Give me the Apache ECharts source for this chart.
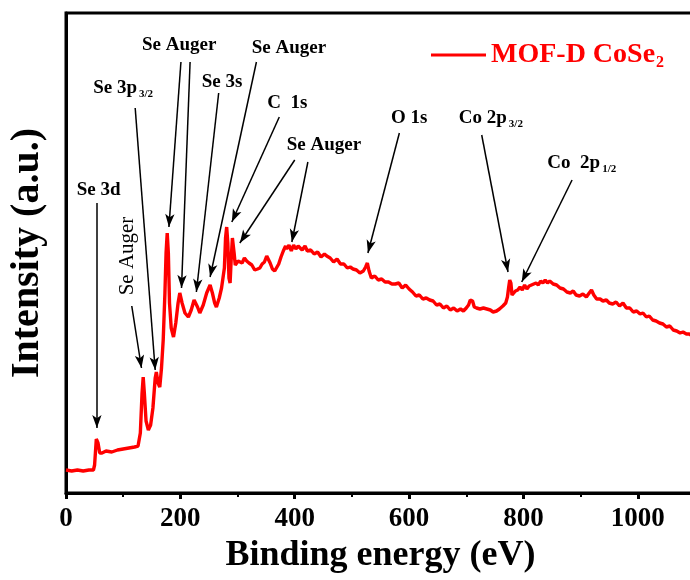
<!DOCTYPE html>
<html>
<head>
<meta charset="utf-8">
<script src="https://cdn.jsdelivr.net/npm/echarts@6/dist/echarts.min.js"></script>
<style>
  html, body { margin: 0; padding: 0; background: #fff; }
  #chart { width: 690px; height: 580px; }
</style>
</head>
<body>
<div id="chart"></div>
<script>
// XPS survey spectrum of MOF-D CoSe2
const seriesName = 'MOF-D CoSe2';

// binding energy (eV)
const energy = [
  0, 10, 20, 30, 40, 48, 50, 53, 56, 59, 63, 70, 80, 90, 100, 110, 120, 126,
  130, 133, 135, 137, 140, 144, 148, 152, 156, 158, 161, 164, 167, 170, 173, 175, 177, 179, 181, 184, 188,
  192, 196, 199, 203, 208, 214, 219, 224, 227, 230, 234, 240, 246, 252, 256, 260, 263, 268, 272, 275,
  277, 279, 281, 283, 285, 287, 289, 291, 293, 294, 296, 298, 301, 304, 308, 312, 316, 320, 325, 330,
  335, 339, 343, 347, 351, 354, 357, 361, 365, 368, 372, 376, 380, 384, 386, 390, 394, 398, 402, 406,
  409, 413, 418, 422, 428, 434, 440, 446, 452, 456, 462, 468, 474, 480, 486, 492, 497, 502, 508, 514,
  520, 524, 527, 530, 534, 540, 546, 552, 558, 564, 570, 576, 582, 588, 594, 600, 606, 612, 618, 624,
  630, 636, 642, 648, 654, 660, 666, 672, 678, 684, 690, 695, 700, 704, 707, 709, 711, 714, 718, 724,
  730, 736, 742, 747, 753, 758, 764, 769, 772, 774, 776, 778, 780, 782, 786, 790, 794, 798, 802, 806,
  810, 814, 817, 822, 826, 830, 834, 838, 842, 846, 852, 858, 864, 870, 876, 882, 887, 892, 898, 904,
  910, 915, 919, 923, 928, 934, 939, 945, 950, 956, 962, 968, 974, 980, 986, 992, 998, 1004, 1009, 1015,
  1020, 1026, 1032, 1038, 1044, 1050, 1056, 1062, 1068, 1074, 1079, 1085, 1090, 1095, 1100
];

// intensity (a.u.)
const intensity = [
  23, 22, 23, 22, 23, 23, 28, 54, 50, 40, 40, 42, 41, 43, 44, 45, 46, 47,
  60, 100, 116, 100, 72, 63, 68, 85, 115, 121, 110, 106, 125, 153, 200, 240, 260, 240, 190, 165, 156,
  170, 190, 200, 190, 180, 176, 183, 193, 195, 186, 180, 188, 200, 208, 200, 190, 186, 195, 205, 206,
  225, 255, 266, 250, 215, 210, 235, 255, 256, 240, 228, 226, 232, 233, 230, 235, 232, 230, 228, 223,
  224, 225, 229, 231, 237, 236, 230, 224, 222, 223, 229, 236, 242, 247, 244, 248, 242, 248, 244, 247,
  245, 243, 247, 242, 243, 239, 241, 236, 239, 237, 235, 231, 234, 229, 229, 225, 226, 224, 223, 220,
  222, 226, 230, 222, 215, 217, 213, 214, 211, 211, 209, 209, 210, 205, 208, 204, 201, 197, 198, 194,
  195, 193, 192, 188, 189, 185, 187, 183, 185, 182, 184, 182, 185, 188, 193, 195, 192, 186, 185, 184,
  185, 184, 183, 181, 182, 184, 187, 190, 196, 205, 213, 210, 198, 196, 202, 203, 206, 203, 208, 204,
  207, 208, 206, 210, 208, 212, 210, 213, 210, 212, 209, 208, 205, 204, 201, 200, 202, 198, 197, 199,
  196, 200, 203, 198, 194, 194, 192, 193, 190, 189, 191, 187, 190, 185, 185, 181, 182, 179, 180, 176,
  177, 173, 172, 170, 169, 166, 167, 163, 162, 160, 161, 159, 159, 157, 157
];

// peak assignments: label text, label anchor and arrow(s) [fromE, fromI, toE, toI]
const callouts = [
  { text: '{b|Se 3d}', at: [57, 303], arrows: [[54, 290, 54, 65]] },
  { text: '{n|Se Auger}', at: [108, 237], rotate: 90, arrows: [[115, 187, 132, 125]] },
  { text: '{b|Se 3p}{s|3/2}', at: [100, 405], arrows: [[121, 385, 156, 123]] },
  { text: '{b|Se Auger}', at: [198, 448], arrows: [[201, 431, 180, 266], [217, 431, 202, 205]] },
  { text: '{b|Se 3s}', at: [273, 411], arrows: [[267, 400, 228, 201]] },
  { text: '{b|Se Auger}', at: [390, 445], arrows: [[333, 431, 252, 216]] },
  { text: '{b|C  1s}', at: [387, 390], arrows: [[373, 376, 290, 271]] },
  { text: '{b|Se Auger}', at: [451, 348], arrows: [[400, 333, 304, 250], [423, 331, 395, 251]] },
  { text: '{b|O 1s}', at: [600, 375], arrows: [[583, 360, 528, 240]] },
  { text: '{b|Co 2p}{s|3/2}', at: [743, 375], arrows: [[727, 358, 773, 221]] },
  { text: '{b|Co  2p}{s|1/2}', at: [902, 330], arrows: [[885, 313, 797, 211]] }
];

const serif = '"Liberation Serif", "Times New Roman", serif';
const labelRich = {
  b: { fontFamily: serif, fontWeight: 'bold', fontSize: 19, color: '#000' },
  n: { fontFamily: serif, fontWeight: 'normal', fontSize: 21, color: '#000' },
  s: { fontFamily: serif, fontWeight: 'bold', fontSize: 11, color: '#000', padding: [12, 0, 0, 2] }
};

const arrowLines = [];
callouts.forEach(c => {
  c.arrows.forEach(a => {
    arrowLines.push([
      { coord: [a[0], a[1]], symbol: 'none' },
      { coord: [a[2], a[3]], symbol: 'arrow', symbolSize: [7, 13] }
    ]);
  });
});

const calloutPoints = callouts.map(c => ({
  coord: c.at,
  symbol: 'circle',
  symbolSize: 0,
  label: {
    show: true,
    position: 'inside',
    rotate: c.rotate || 0,
    formatter: c.text,
    rich: labelRich
  }
}));

const chart = echarts.init(document.getElementById('chart'), null, { renderer: 'canvas' });

chart.setOption({
  animation: false,
  backgroundColor: '#fff',
  grid: {
    left: 66, top: 13, right: -5, bottom: 87,
    outerBoundsMode: 'none',
    containLabel: false,
    show: true, borderColor: '#000', borderWidth: 3
  },
  legend: {
    data: [seriesName],
    left: 426, top: 36,
    icon: 'rect', itemWidth: 55, itemHeight: 3, itemGap: 5,
    formatter: () => '{a|MOF-D CoSe}{s|2}',
    textStyle: {
      rich: {
        a: { fontFamily: serif, fontWeight: 'bold', fontSize: 28, color: '#ff0000' },
        s: { fontFamily: serif, fontWeight: 'bold', fontSize: 16, color: '#ff0000', padding: [15, 0, 0, 1] }
      }
    }
  },
  xAxis: {
    type: 'value',
    min: 0, max: 1100, interval: 200,
    name: 'Binding energy (eV)',
    nameLocation: 'middle', nameGap: 44,
    nameTextStyle: { fontFamily: serif, fontWeight: 'bold', fontSize: 36, color: '#000' },
    axisLine: { show: true, lineStyle: { color: '#000', width: 3 } },
    axisTick: { show: true, inside: false, length: 6, lineStyle: { color: '#000', width: 3 } },
    minorTick: { show: true, splitNumber: 2, length: 4, lineStyle: { color: '#000', width: 2 } },
    axisLabel: {
      fontFamily: serif, fontWeight: 'bold', fontSize: 27, color: '#000', margin: 13,
      showMaxLabel: false,
      formatter: v => String(v)
    },
    splitLine: { show: false }
  },
  yAxis: {
    type: 'value',
    min: 0, max: 480,
    name: 'Intensity (a.u.)',
    nameLocation: 'middle', nameGap: 18, nameRotate: 90,
    nameTextStyle: { fontFamily: serif, fontWeight: 'bold', fontSize: 40, color: '#000' },
    axisLine: { show: true, lineStyle: { color: '#000', width: 3 } },
    axisTick: { show: false },
    axisLabel: { show: false },
    splitLine: { show: false }
  },
  series: [{
    name: seriesName,
    type: 'line',
    data: energy.map((e, i) => [e, intensity[i]]),
    showSymbol: false,
    symbol: 'none',
    lineStyle: { color: '#ff0000', width: 3.4 },
    itemStyle: { color: '#ff0000' },
    z: 3,
    markLine: {
      silent: true,
      animation: false,
      symbol: ['none', 'arrow'],
      label: { show: false },
      lineStyle: { color: '#000', width: 1.5, type: 'solid' },
      emphasis: { disabled: true },
      data: arrowLines
    },
    markPoint: {
      silent: true,
      animation: false,
      data: calloutPoints
    }
  }]
});
</script>
</body>
</html>
